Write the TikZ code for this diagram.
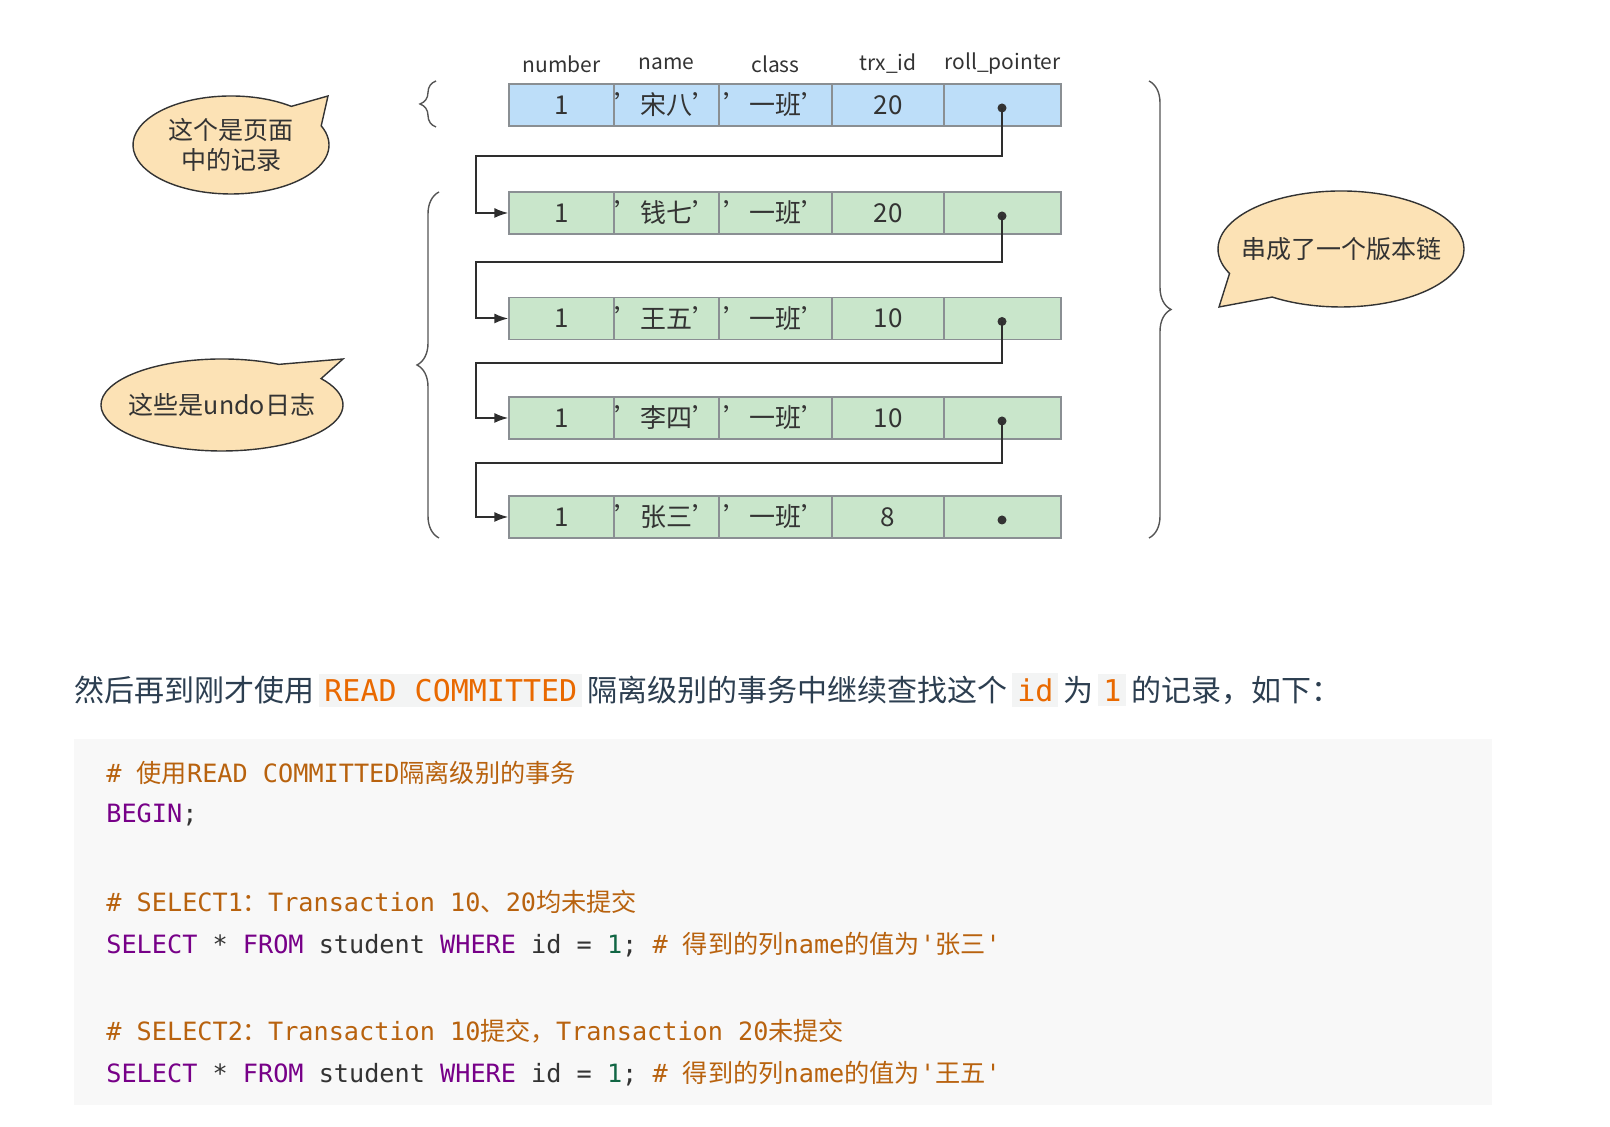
\documentclass[tikz,border=0pt]{standalone}
\usepackage{fontspec}
\setmainfont{Noto Sans CJK SC}
\setmonofont{DejaVu Sans Mono}
\newfontfamily\cjk{Noto Sans CJK SC}
\usetikzlibrary{decorations.pathreplacing,arrows.meta}
\definecolor{bluef}{HTML}{BDDEF9}
\definecolor{greenf}{HTML}{C9E6CB}
\definecolor{cellb}{HTML}{8A8F93}
\definecolor{bubf}{HTML}{FCE2B5}
\definecolor{txt}{HTML}{333333}
\definecolor{para}{HTML}{2C3E50}
\definecolor{icbg}{HTML}{F3F4F4}
\definecolor{icfg}{HTML}{E96900}
\definecolor{codebg}{HTML}{F8F8F8}
\definecolor{cmt}{HTML}{B8620E}
\definecolor{kw}{HTML}{770088}
\definecolor{num}{HTML}{116644}
\definecolor{brc}{HTML}{555555}
\newcommand\icode[1]{{\setlength\fboxsep{2.5pt}\colorbox{icbg}{\ttfamily\color{icfg}#1}}}
\begin{document}
\begin{tikzpicture}[x=0.5pt,y=0.5pt,
  cellbox/.style={draw=cellb,line width=0.6pt,minimum height=21pt,inner sep=0pt,text=txt,font=\fontsize{13}{13}\selectfont},
  hdr/.style={text=txt,font=\fontsize{10.5}{10.5}\selectfont,inner sep=0pt},
  conn/.style={draw=txt!90!black,line width=1pt,-{Latex[length=7pt,width=5pt]}},
  link/.style={draw=txt!90!black,line width=1pt},
  bubble/.style={draw=txt,line width=0.7pt,fill=bubf},
  bubtext/.style={text=txt,font=\fontsize{12.5}{15}\selectfont,align=center},
  brace/.style={draw=brc,line width=0.7pt,decorate},
  codeline/.style={anchor=west,inner sep=0pt,font=\ttfamily\fontsize{12.6}{12.6}\selectfont,text=txt}]
\useasboundingbox (0,0) rectangle (1610,1127);
% headers
\foreach \cx/\lab/\nm in {561.5/number/hA,666.5/name/hB,775.5/class/hC,888/trx\_id/hD,1002.5/roll\_pointer/hE}
  \node[hdr] (\nm) at (\cx,1063) {\lab};
% rows
\foreach \r/\cy/\fc/\nmv/\trx in {0/1022/bluef/宋八/20,1/914/greenf/钱七/20,2/808.5/greenf/王五/10,3/709/greenf/李四/10,4/610/greenf/张三/8}{
  \node[cellbox,fill=\fc,minimum width=52.5pt] (r\r c1) at (561.5,\cy) {1};
  \node[cellbox,fill=\fc,minimum width=52.5pt] (r\r c2) at (666.5,\cy) {'\nmv'};
  \node[cellbox,fill=\fc,minimum width=56.5pt] (r\r c3) at (775.5,\cy) {'一班'};
  \node[cellbox,fill=\fc,minimum width=56pt] (r\r c4) at (888,\cy) {\trx};
  \node[cellbox,fill=\fc,minimum width=58.5pt] (r\r c5) at (1002.5,\cy) {};
  \node[circle,fill=txt,inner sep=0pt,minimum size=4.5pt] (d\r) at (1002,\cy-3) {};
}
% connectors
\foreach \a/\b/\hy in {0/1/971,1/2/865,2/3/764,3/4/664}{
  \coordinate (h\a) at (476,\hy);
  \draw[conn] (d\a.center) -- (d\a.center |- h\a) -- (h\a) |- (r\b c1.west);
}
% braces
\draw[brace,decoration={brace,amplitude=8pt}] (436,1000) -- (436,1046);
\draw[brace,decoration={brace,amplitude=11pt}] (439,589) -- (439,935);
\draw[brace,decoration={brace,amplitude=11pt}] (1149,1046) -- (1149,589);
% bubbles
\draw[bubble] (231,982) ++(52:49pt and 24.5pt) arc[start angle=52,end angle=383,x radius=49pt,y radius=24.5pt] -- (328,1031) -- cycle;
\node[bubtext] (b1) at (231,982) {这个是页面\\中的记录};
\draw[bubble] (222,722) ++(62:60.5pt and 23pt) arc[start angle=62,end angle=395,x radius=60.5pt,y radius=23pt] -- (343,768) -- cycle;
\node[bubtext] (b2) at (222,722) {这些是undo日志};
\draw[bubble] (1341,878) ++(236:61.5pt and 29pt) arc[start angle=236,end angle=565,x radius=61.5pt,y radius=29pt] -- (1219,820) -- cycle;
\node[bubtext] (b3) at (1341,878) {串成了一个版本链};
% paragraph
\node[anchor=west,inner sep=0pt,text=para,font=\fontsize{15}{15}\selectfont] (p) at (74,437)
  {然后再到刚才使用\,\icode{READ COMMITTED}\,隔离级别的事务中继续查找这个\,\icode{id}\,为\,\icode{1}\,的记录，如下：};
% code block
\fill[codebg] (74,22) rectangle (1492,388);
\node[codeline] (l1) at (106,354) {\color{cmt}\# {\cjk 使用}READ COMMITTED{\cjk 隔离级别的事务}};
\node[codeline] (l2) at (106,312) {\color{kw}BEGIN\color{txt};};
\node[codeline] (l3) at (106,225) {\color{cmt}\# SELECT1{\cjk ：}Transaction 10{\cjk 、}20{\cjk 均未提交}};
\node[codeline] (l4) at (106,182) {\color{kw}SELECT \color{txt}* \color{kw}FROM \color{txt}student \color{kw}WHERE \color{txt}id = \color{num}1\color{txt}; \color{cmt}\# {\cjk 得到的列}name{\cjk 的值为}'{\cjk 张三}'};
\node[codeline] (l5) at (106,96) {\color{cmt}\# SELECT2{\cjk ：}Transaction 10{\cjk 提交，}Transaction 20{\cjk 未提交}};
\node[codeline] (l6) at (106,53) {\color{kw}SELECT \color{txt}* \color{kw}FROM \color{txt}student \color{kw}WHERE \color{txt}id = \color{num}1\color{txt}; \color{cmt}\# {\cjk 得到的列}name{\cjk 的值为}'{\cjk 王五}'};
\end{tikzpicture}
\end{document}
